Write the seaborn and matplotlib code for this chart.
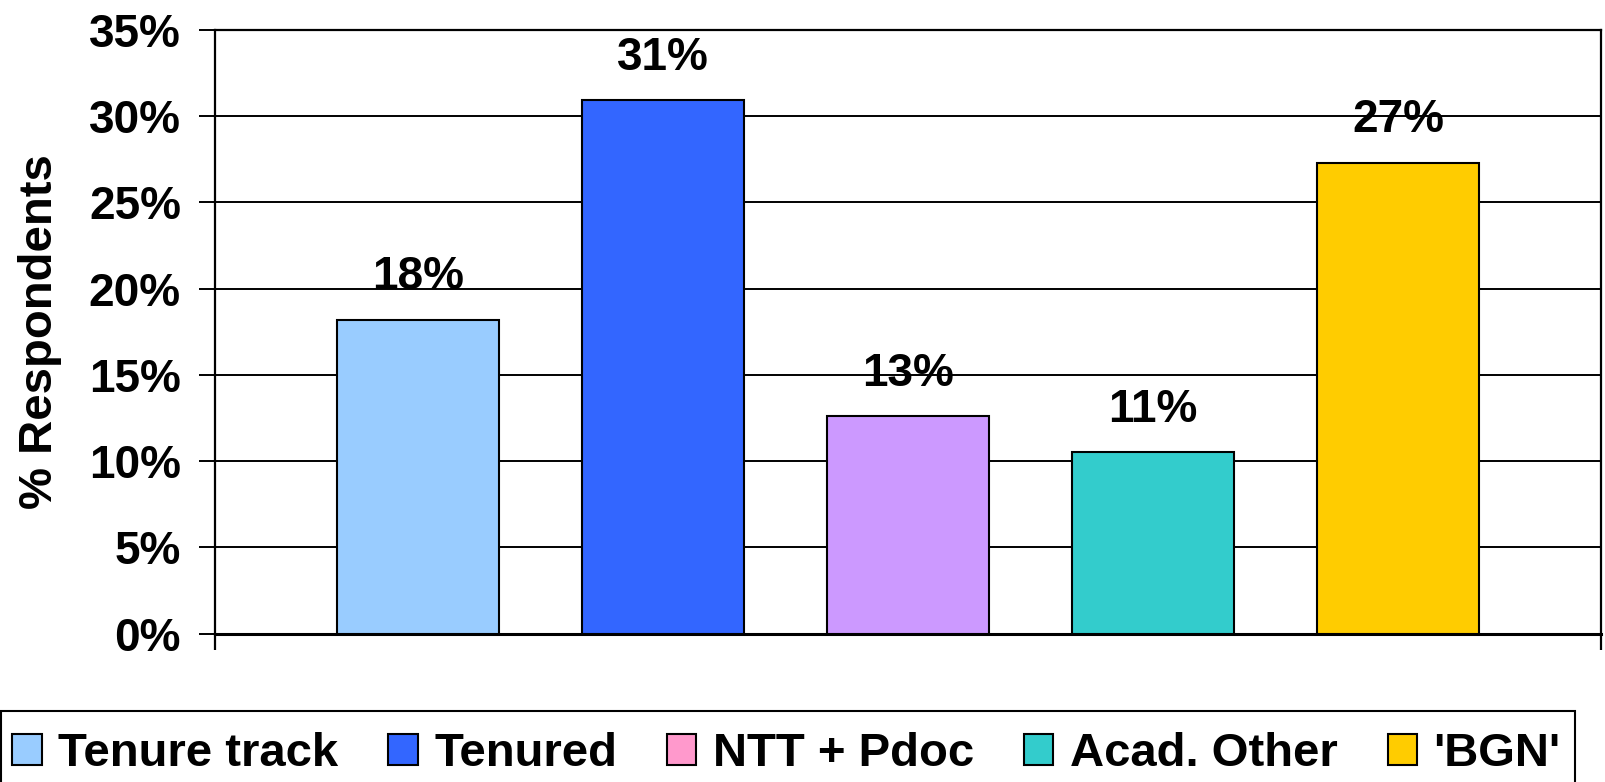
import matplotlib
matplotlib.use("Agg")
import matplotlib.pyplot as plt
import seaborn as sns
import pandas as pd
from matplotlib.patches import Patch, Rectangle
from matplotlib.ticker import PercentFormatter

series = ["Tenure track", "Tenured", "NTT + Pdoc", "Acad. Other", "'BGN'"]
values = [18.2, 30.9, 12.6, 10.5, 27.3]
value_labels = ["18%", "31%", "13%", "11%", "27%"]
bar_colors = ["#99CCFF", "#3366FF", "#CC99FF", "#33CCCC", "#FFCC00"]
legend_colors = ["#99CCFF", "#3366FF", "#FF99CC", "#33CCCC", "#FFCC00"]
y_ticks = [0, 5, 10, 15, 20, 25, 30, 35]

sns.set_theme(style="white")
plt.rcParams["font.family"] = ["Liberation Sans", "DejaVu Sans"]
plt.rcParams["font.weight"] = "bold"
plt.rcParams["text.color"] = "black"
plt.rcParams["axes.labelcolor"] = "black"
plt.rcParams["xtick.color"] = "black"
plt.rcParams["ytick.color"] = "black"

df = pd.DataFrame({"group": [""] * len(series), "series": series, "value": values})

fig = plt.figure(figsize=(16.05, 7.82), dpi=100)
ax = fig.add_axes([215 / 1605, 1 - 633.6 / 782, (1601 - 215) / 1605, (633.6 - 29.7) / 782])

sns.barplot(data=df, x="group", y="value", hue="series", hue_order=series,
            palette=bar_colors, saturation=1, width=0.884, gap=0.34, legend=False,
            edgecolor="black", linewidth=1.5, ax=ax, zorder=3)

ax.set_xlim(-0.5, 0.5)
ax.set_ylim(0, 35)
ax.set_yticks(y_ticks)
ax.yaxis.set_major_formatter(PercentFormatter(decimals=0))
ax.set_xticks([-0.5, 0.5])
ax.set_xticklabels(["", ""])
ax.set_xlabel("")
ax.set_ylabel("% Respondents", fontsize=34, fontweight="bold", labelpad=19, color="black")
ax.grid(axis="y", color="black", linewidth=1.4, zorder=0)
ax.set_axisbelow(True)
for s in ["left", "right", "top"]:
    ax.spines[s].set_visible(True)
    ax.spines[s].set_color("black")
    ax.spines[s].set_linewidth(1.6)
ax.spines["bottom"].set_color("black")
ax.spines["bottom"].set_linewidth(2.2)
ax.tick_params(axis="y", which="major", direction="out", length=11.5, width=1.4,
               color="black", labelcolor="black", labelsize=33, pad=13, left=True)
ax.tick_params(axis="x", which="major", direction="out", length=11.5, width=1.6,
               color="black", bottom=True)
for lbl in ax.get_yticklabels():
    lbl.set_fontweight("bold")

for patch, txt in zip(ax.patches, value_labels):
    x = patch.get_x() + patch.get_width() / 2
    y = patch.get_height()
    ax.annotate(txt, (x, y), xytext=(0, 22), textcoords="offset points",
                ha="center", va="baseline", fontsize=33, fontweight="bold",
                color="black", zorder=5)

handles = [Patch(facecolor=c, edgecolor="black", linewidth=1.5) for c in legend_colors]
leg = fig.legend(handles, series, loc="center left", ncol=5,
                 bbox_to_anchor=(0.0, 1 - 754 / 782),
                 frameon=False,
                 handlelength=0.62, handleheight=0.62, handletextpad=0.35,
                 borderpad=0.26, borderaxespad=0.0, columnspacing=1.06,
                 prop={"weight": "bold", "size": 34})
for t in leg.get_texts():
    t.set_color("black")

frame = Rectangle((0.0005, -0.05), 1575 / 1605 - 0.0005, 0.05 + 1 - 711 / 782,
                  transform=fig.transFigure, fill=False, edgecolor="black",
                  linewidth=1.5, zorder=10)
fig.patches.append(frame)

fig.savefig("out.png", dpi=100)
